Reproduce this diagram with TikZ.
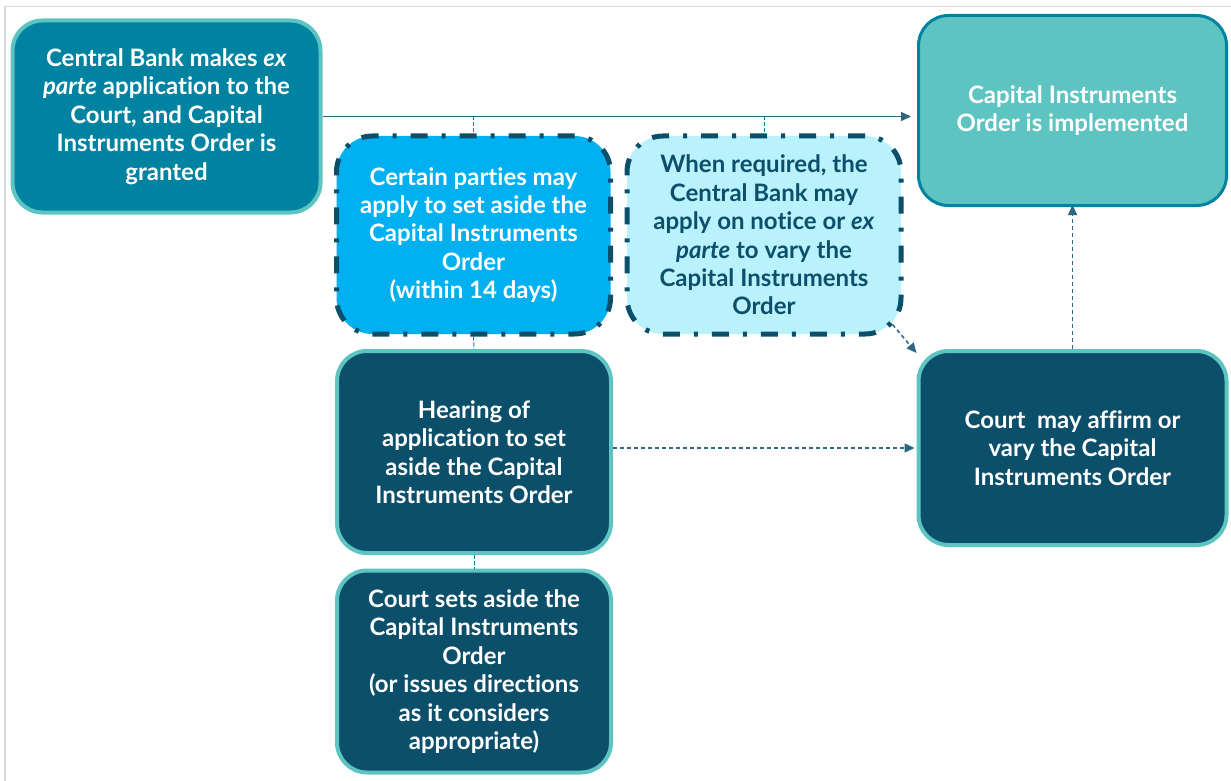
\documentclass[tikz,border=0pt]{standalone}
\usepackage{fontspec}
\setmainfont{Lato}[Ligatures=NoCommon]
\usetikzlibrary{arrows.meta}
\definecolor{cbteal}{HTML}{0083A0}
\definecolor{cblight}{HTML}{5EC4C1}
\definecolor{cbbright}{HTML}{00B0F0}
\definecolor{cbpale}{HTML}{B9F1FD}
\definecolor{cbdark}{HTML}{0B4F6A}
\definecolor{cbline}{HTML}{2B687F}
\definecolor{cbframe}{HTML}{D9D9D9}
\begin{document}
\begin{tikzpicture}[x=0.5pt,y=-0.5pt]
        \tikzstyle{stage}=[rectangle,rounded corners=15pt,align=center,text=white,
                font=\fontsize{12}{14.2}\selectfont\bfseries,inner sep=0pt]
        \tikzstyle{grant}=[stage,fill=cbteal,draw=cblight,line width=2pt]
        \tikzstyle{done}=[stage,fill=cblight,draw=cbteal,line width=1.5pt]
        \tikzstyle{court}=[stage,fill=cbdark,draw=cblight,line width=2pt]
        \tikzstyle{option}=[stage,rounded corners=18pt,draw=cbdark,line width=2.5pt,
                dash pattern=on 8.5pt off 7pt on 2pt off 7pt]
        \tikzstyle{edge}=[draw,cbline,line width=0.75pt,-{Triangle[length=5pt,width=4.5pt]}]
        \tikzstyle{dashedge}=[edge,dash pattern=on 2pt off 1.5pt]
        \tikzstyle{tick}=[draw,cbteal,line width=0.5pt,dash pattern=on 2pt off 1pt]
        \useasboundingbox (0,0) rectangle (1231,781);
        \draw[cbframe,line width=0.75pt] (5,781) -- (5,6.5) -- (1231,6.5);
        \begin{scope}
                \node [grant,minimum width=154pt,minimum height=96pt] (b1) at (166.5,116.5)
                        {Central Bank makes \textit{ex}\\\textit{parte} application to the\\Court, and Capital\\Instruments Order is\\granted};
                \node [done,minimum width=154pt,minimum height=95pt] (b2) at (1072.5,110.5)
                        {Capital Instruments\\Order is implemented};
                \node [option,fill=cbbright,minimum width=137pt,minimum height=99pt] (b3) at (473.5,235)
                        {Certain parties may\\apply to set aside the\\Capital Instruments\\Order\\(within 14 days)};
                \node [option,fill=cbpale,text=cbdark,minimum width=137pt,minimum height=99pt] (b4) at (764,235)
                        {When required, the\\Central Bank may\\apply on notice or \textit{ex}\\\textit{parte} to vary the\\Capital Instruments\\Order};
                \node [court,minimum width=137pt,minimum height=101pt] (b5) at (474,452)
                        {Hearing of\\application to set\\aside the Capital\\Instruments Order};
                \node [court,minimum width=137pt,minimum height=101pt] (b6) at (474,671.5)
                        {Court sets aside the\\Capital Instruments\\Order\\(or issues directions\\as it considers\\appropriate)};
                \node [court,minimum width=154pt,minimum height=97pt] (b7) at (1072.5,448)
                        {Court\ \ may affirm or\\vary the Capital\\Instruments Order};
                % connectors
                \path[edge] (b1.east) -- ([xshift=-3pt]b2.west |- b1.east);
                \path[tick] (b3.north |- b1.east) -- (b3.north);
                \path[tick] (b4.north |- b1.east) -- (b4.north);
                \path[tick] (b3.south) -- (b5.north);
                \path[tick] (b5.south) -- (b6.north);
                \path[dashedge] ([shift={(-11,-12)}]b4.south east) -- ([yshift=-2pt]b7.north west);
                \path[dashedge] (b5.east |- b7.west) -- ([xshift=-1pt]b7.west);
                \path[dashedge] (b7.north) -- ([yshift=1pt]b2.south);
        \end{scope}
\end{tikzpicture}
\end{document}
